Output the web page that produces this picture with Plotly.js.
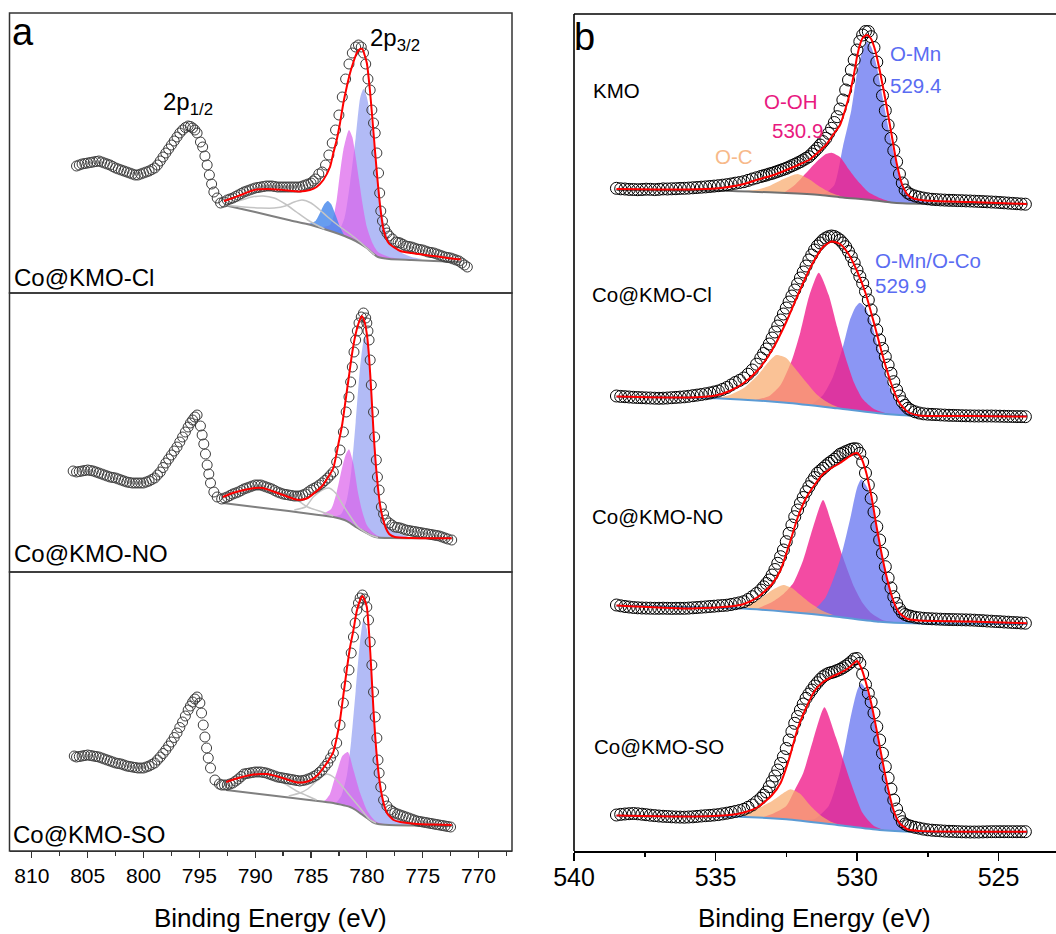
<!DOCTYPE html>
<html>
<head>
<meta charset="utf-8">
<script src="https://cdn.plot.ly/plotly-3.0.1.min.js"></script>
<style>html,body{margin:0;padding:0;background:#fff;}#chart{width:1056px;height:934px;}</style>
</head>
<body>
<div id="chart"></div>
<script>
// ---------------- Panel a : Co 2p (three samples) ----------------
const coCl_E = [806,805.75,805.5,805.25,805,804.75,804.5,804.25,804,803.75,803.5,803.25,803,802.75,802.5,802.25,802,801.75,801.5,801.25,801,800.75,800.5,800.25,800,799.75,799.5,799.25,799,798.75,798.5,798.25,798,797.75,797.5,797.25,797,796.75,796.5,796.25,796,795.8,795.6,795.4,795.2,794.9,794.7,794.5,794.3,794.1,793.9,793.7,793.4,793.1,792.8,792.5,792.25,792,791.75,791.5,791.25,791,790.75,790.5,790.25,790,789.75,789.5,789.25,789,788.75,788.5,788.25,788,787.75,787.5,787.25,787,786.75,786.5,786.25,786,785.75,785.5,785.25,785,784.8,784.6,784.3,784,783.7,783.4,783.1,782.8,782.5,782.2,781.9,781.6,781.3,781,780.75,780.5,780.3,780.1,779.9,779.7,779.55,779.4,779.25,779.1,778.95,778.85,778.75,778.6,778.4,778.2,778,777.7,777.4,777.2,777,776.75,776.5,776.25,776,775.75,775.5,775.25,775,774.75,774.5,774.25,774,773.75,773.5,773.25,773,772.75,772.5,772.25,772,771.75,771.5,771.25,771];
const coCl_I = [127,128,129,129.5,130,130.5,131,131.5,132,131,130,129,128,126.5,125,124,123,122,121,120,119,118,118,119,120,121,122,123.5,125,128,132,136,140,144,148,152,156,160,163,165.5,167,166.5,165,163,160,151,146,137,128,118,109,101,95,90,91,93,94,95,96.5,98,99.5,101,102,103,104,105,105.5,106,106.5,107,107,107,106.5,106,106,106,106,106,106,106,106,106,107,108,109,110,112,114,119,121,128,138,150,163,178,196,214,229,240,246,248,246,240,229,214,203,183,170,160,140,120,100,82,72,64,60,57,54,51,50.5,50,48.5,47,46.5,46,45,44,43.5,43,42,41,40.5,40,39,38,37,36,35.5,35,34,33,32,30,28,26];
const coCl_fitE = [792.8,792,791.3,790.1,788.9,787.5,786,785.1,784.5,783.9,783.3,783,782.7,782.4,782.1,781.8,781.5,781.2,780.9,780.6,780.4,780.2,780,779.7,779.4,779.1,778.8,778.5,778.05,777,776,774,772.8,771.6];
const coCl_fitI = [92,95,98,103,104,103,101.5,103,106,113,126,140,153,170,190,206,220,231,240,244,244,238,230,200,160,120,86,63,50,42,40,37,35,33.5];
const coCl_bgE = [792.8,790,787,785,783,782,781,780,779.5,779,778,776,774,771.6];
const coCl_bgI = [88,81,73,68,61,57,52,45,40,36,34,33,32,31];
const coCl_sat1E = [792.8,791.5,790.3,789.3,788.3,787.3,786.3,785.3,784.5,783.8];
const coCl_sat1I = [88,92,96,97,95,89,81,73,68,64];
const coCl_sat2E = [792.8,791,789.5,788.3,787.3,786.5,785.8,785,784.3,783.5,782.5,781.5,780.5,779.8,779.3];
const coCl_sat2I = [88,86,85,85,87,91,93,90,84,76,67,59,50,43,38];
const coCl_p1E = [783.5,782.5,782,781.5,781,780.6,780.3,780,779.6,779.2,778.8,778.4,778,777,776,775];
const coCl_p1I = [63,63,75,110,155,195,204,196,170,133,93,66,53,41,36,34];
const coCl_p2E = [786,785,784,783.3,783,782.7,782.4,782.1,781.6,781.3,781,780.7,780.4,780,779.5,779,778,777];
const coCl_p2I = [71,69,66,68,76,93,120,143,163,156,136,113,90,66,50,41,36,34];
const coCl_p3E = [785.2,784.6,784.2,783.8,783.5,783.2,782.8,782.4,782];
const coCl_p3I = [69,72,80,89,92,89,78,66,57];

const coNO_E = [806.3,806,805.75,805.5,805.25,805,804.75,804.5,804.25,804,803.75,803.5,803.25,803,802.75,802.5,802.25,802,801.75,801.5,801.25,801,800.75,800.5,800.25,800,799.75,799.5,799.25,799,798.75,798.5,798.25,798,797.75,797.5,797.25,797,796.75,796.5,796.25,796,795.8,795.6,795.4,795.2,794.9,794.75,794.6,794.45,794.3,794.15,794,793.7,793.4,793,792.75,792.5,792.25,792,791.75,791.5,791.25,791,790.75,790.5,790.25,790,789.75,789.5,789.25,789,788.75,788.5,788.25,788,787.75,787.5,787.25,787,786.75,786.5,786.25,786,785.75,785.5,785.25,785,784.75,784.5,784.25,784,783.75,783.5,783.25,783,782.7,782.4,782.1,781.85,781.6,781.45,781.3,781.15,781,780.85,780.7,780.5,780.3,780.1,780,779.9,779.8,779.7,779.6,779.4,779.3,779.15,779.05,778.9,778.7,778.5,778.3,778,777.75,777.5,777.25,777,776.75,776.5,776.25,776,775.75,775.5,775.25,775,774.75,774.5,774.25,774,773.75,773.5,773.25,773,772.75,772.4];
const coNO_I = [101,100,100.5,101,101.5,102,101.5,101,100,99,98,97,96,95,94.5,94,93,92,91,90,89.5,89,89,89,89,89,90,91,92.5,94,97,100,104.5,109,113,117,121,125,130,135,140,145,149,152,155,157,146,137,128,118,107,98,89,80,75,73,74,75,76.5,78,79,80,81.5,83,84,85,86,87,87,87,86,85,84,83,81.5,80,79,78,77.5,77,76.5,76,76,76,77,78,80,82,83.5,85,87,89,91.5,94,97,100,110,122,140,160,175,190,205,220,232,241,249,255,259,254,249,241,232,212,187,160,135,112,95,82,65,58,52,49,47,45,44.5,44,43,42,41.5,41,40.5,40,39.5,39,38.5,38,37.5,37,36.5,36,35,34,33,32];
const coNO_fitE = [792.9,792,791,790,789.3,788.5,787.5,786.5,786,785.3,784.6,784,783.4,783,782.6,782.2,781.9,781.6,781.3,781,780.7,780.45,780.2,780,779.8,779.6,779.4,779.2,779,778.8,778.6,778.3,778,777.5,776,774,772.4];
const coNO_fitI = [75,79,82,84,84,81,77,73,72,74,80,86,96,104,125,148,172,196,220,238,250,256,250,238,215,180,140,108,84,66,55,44,38,35,34,33.7,33.7];
const coNO_bgE = [792.9,790,787,785,783,782,781.5,781,780.5,780,779.5,779,778,775,772.4];
const coNO_bgI = [69,65,61,58,55,52,49,45,42,39,36,34.5,34,33.8,33.7];
const coNO_sat1E = [792.9,791.2,789.5,788,786.5,785.3,784,783];
const coNO_sat1I = [74,80,83,80,74,65,60,56];
const coNO_sat2E = [786.5,785.5,784.8,784,783.4,782.8,782.2,781.5,780.8,779.7,779];
const coNO_sat2I = [62,65,75,82,84,79,68,56,45,37,34.5];
const coNO_p1E = [783,782.3,781.8,781.4,781,780.6,780.2,779.9,779.6,779.3,779,778.7,778.3,777.5,776.5,776];
const coNO_p1I = [55,58,72,100,150,205,236,225,180,130,90,62,48,40,36,34];
const coNO_p2E = [784,783.2,782.7,782.2,781.9,781.6,781.2,780.8,780.4,780,779.5,779,778.5];
const coNO_p2I = [58,63,80,105,117,122.7,108,80,60,47,40,36,34.5];

const coSO_E = [806.2,806,805.75,805.5,805.25,805,804.75,804.5,804.25,804,803.75,803.5,803.25,803,802.75,802.5,802.25,802,801.75,801.5,801.25,801,800.75,800.5,800.25,800,799.75,799.5,799.25,799,798.75,798.5,798.25,798,797.75,797.5,797.25,797,796.75,796.5,796.25,796,795.8,795.6,795.4,795.2,794.95,794.8,794.65,794.5,794.35,794.2,794,793.6,793.2,793,792.75,792.5,792.25,792,791.75,791.5,791.25,791,790.75,790.5,790.25,790,789.75,789.5,789.25,789,788.75,788.5,788.25,788,787.75,787.5,787.25,787,786.75,786.5,786.25,786,785.75,785.5,785.25,785,784.75,784.5,784.25,784,783.75,783.5,783.25,783,782.7,782.4,782.1,781.85,781.6,781.4,781.2,781.05,780.9,780.75,780.6,780.4,780.2,780,779.85,779.7,779.55,779.4,779.25,779.1,779,778.9,778.75,778.5,778.2,777.9,777.7,777.5,777.25,777,776.75,776.5,776.25,776,775.75,775.5,775.25,775,774.75,774.5,774.25,774,773.75,773.5,773.25,773,772.75,772.5];
const coSO_I = [95,94,94.5,95,95.5,96,95.5,95,94.5,94,93,92,91,90,89,88,87.5,87,86,85,84.5,84,83.5,83,83,83,84,85,86.5,88,91,94,97.5,101,105,109,113.5,118,123.5,129,135,141,145,149,152,154,148,138,126,114,103,93,83,71,67,66,66,66,67,68,70,72,74.5,77,77.5,78,78.5,79,79,79,78.5,78,77,76,75,74,73.5,73,72.5,72,71.5,71,70.5,70,70.5,71,72,73,74.5,76,78.5,81,84.5,88,93,98,108,126,148,165,181,198,214,228,241,248,253,256,252,244,231,209,186,159,134,113,91,78,64,51,45,41,39.5,38,37,36,35,34,33,32,31,30,29.5,29,28.5,28,27.5,27,26.5,26,25.5,25,24.5,24];
const coSO_fitE = [792.6,791.5,790.4,789.5,788.9,788,787.4,786.2,785.5,785,784.4,783.9,783.4,783,782.7,782.4,782.1,781.8,781.5,781.2,780.9,780.6,780.4,780.2,780,779.8,779.6,779.4,779.1,778.8,778.5,778.2,777.6,777,775.5,774,772.4];
const coSO_fitI = [69,73,76,77,77,74.5,72.5,68.5,69,71,76,83,91,99,113,131,156,181,204,221,240,251,255,251,244,218,181,140,94,65,48,38,31,29,27,26.5,26];
const coSO_bgE = [792.6,790,787,784,783,782,781.5,781,780.5,780,779.5,779,778,776,772.4];
const coSO_bgI = [61,57.5,53.5,49.5,48,45.5,44,41,37,33,29,27,26,25.5,25];
const coSO_sat1E = [792.6,791.5,790.3,789.3,788.3,787.3,786.3,785.3,784.5];
const coSO_sat1I = [62,70,75,77,74,67,60,55,51];
const coSO_sat2E = [787,786,785.3,784.5,783.6,783,782.3,781.5,780.6,779.8,779.2];
const coSO_sat2I = [55,58,62,70,77,74,66,55,43,32,28];
const coSO_p1E = [783.3,782.8,782.3,781.8,781.4,781,780.6,780.3,780,779.6,779.3,779,778.7,778.3,777.5,776.5,776];
const coSO_p1I = [47.5,48,55,75,110,160,210,231,222,175,130,85,55,40,32,28,26];
const coSO_p2E = [784,783.7,783.3,783,782.6,782.2,781.7,781.2,780.6,780,779.5,779.1,778.5];
const coSO_p2I = [49.5,51,57,68,82,95,99,81,58,41,33,29,27];

const coTicks = [810,805,800,795,790,785,780,775,770];

// ---------------- Panel b : O 1s (four samples) ----------------
const oE = [538.5,538.35,538.2,538.05,537.9,537.75,537.6,537.45,537.3,537.15,537.0,536.85,536.7,536.55,536.4,536.25,536.1,535.95,535.8,535.65,535.5,535.35,535.2,535.05,534.9,534.75,534.6,534.45,534.3,534.15,534.0,533.85,533.7,533.55,533.4,533.3,533.2,533.1,533.0,532.9,532.8,532.7,532.6,532.5,532.4,532.3,532.2,532.1,532.0,531.9,531.8,531.7,531.6,531.5,531.4,531.3,531.2,531.1,531.0,530.9,530.8,530.7,530.6,530.5,530.4,530.3,530.2,530.1,530.0,529.9,529.8,529.7,529.6,529.5,529.4,529.3,529.2,529.1,529.0,528.9,528.8,528.7,528.6,528.5,528.4,528.3,528.2,528.1,527.95,527.8,527.65,527.5,527.35,527.2,527.05,526.9,526.75,526.6,526.45,526.3,526.15,526.0,525.85,525.7,525.55,525.4,525.25,525.1,524.95,524.8,524.65,524.5,524.35,524.2,524.05];
const oKMO_I = [36.7,36.2,36,35.6,35.5,35.3,35.5,35.8,35.7,35.4,35.7,36.1,36,36.2,36.3,36.6,36.7,36.9,37.2,37.5,37.8,38.1,38.5,38.9,39.3,39.8,40.3,41,41.8,42.5,43.3,44.6,46,47.2,48.5,49.3,50,51,51.7,52.7,53.7,54.7,55.7,56.7,58,59.3,60.6,62,63.3,65,66.7,68.3,71,73.9,76.7,80,83.4,86.7,91.7,96.7,102.5,108.3,116,125,135,145,155,165,175,183.5,190,193.5,193.5,188.3,177.5,163,145,129.5,114.5,100,86.7,74.5,63.3,51,42,35,32,30.5,29,27.8,26.9,26.2,25.7,25.4,25.1,24.9,24.7,24.6,24.4,24.3,24.1,24,23.8,23.6,23.4,23.2,23,22.8,22.5,22.2,21.9,21.6,21.3,21,20.8];
const oCl_I = [39,38.6,38.3,38,37.7,37.5,37.3,37.1,37,36.8,36.7,36.8,37,37.3,37.6,37.9,38.2,38.7,39.3,39.9,40.5,41.2,42,43,44,45.6,47.5,50,52.5,54.6,57,60.8,65,70.8,77,81.5,86,91,97,103,109,115,121,127,133,139,145,151,157,163,169,175,180,185,189,192,195,197,198.3,199,198.5,197,195,192,188.3,183.5,178.3,172,165,158.5,151.7,143.5,135,125,115,105,95,86.5,78.3,70,61.7,53.3,45,39,33.3,29.7,26.7,25,23.2,22,21.2,20.8,20.6,20.4,20.1,19.9,19.7,19.6,19.5,19.3,19.2,19.1,19,19,19,19,19,18.9,18.8,18.7,18.6,18.5,18.4,18.4,18.3];
const oNO_I = [35,34.2,33.5,33,32.5,32.2,32,31.9,31.8,31.7,31.7,31.8,31.7,31.6,31.7,31.7,31.7,31.9,32.2,32.5,32.8,33.1,33.5,33.8,34.2,34.5,34.8,35.5,36.3,37.2,38.3,40.5,43.3,46.5,50,53.2,56.5,60,65,70.5,76.7,83.3,90,98.3,106.7,115,123.3,130,136.7,142.5,148.3,153.3,158.3,162.5,166.7,169.2,171.7,174.2,176.7,178.7,180.7,183.2,185.7,187,188.3,189.5,190.7,191.3,191,186.7,178,167,155,141.7,128,113.3,100,86.7,73.3,62,52,43.3,36.5,31.3,27.3,25.5,24.3,23.8,22.8,22.2,21.7,21.4,21.2,21,20.8,20.6,20.5,20.4,20.3,20.2,20.1,20,19.8,19.5,19.3,19,18.8,18.5,18.3,18,17.8,17.5,17.3,17,16.8];
const oSO_I = [36,36.6,37,37.3,37.5,37.2,36.8,36.3,35.8,35.4,35,34.7,34.5,34.2,34,33.9,33.8,34,34.2,34.6,35,35.3,35.6,36,36.4,37.1,37.8,38.6,39.5,40.5,41.7,43.7,46,49.2,52.7,55.8,59,64.3,69.5,75,81,87.5,94.3,102.5,111,119.5,127.7,134.5,141,147,152.7,157,161,165,168.3,171.5,174.3,176.2,177.7,178.5,179.3,180.5,181.7,183.2,185,187,189.3,192,192.5,187.7,177,166.5,157.7,149,138,124.3,111,97.7,84.3,73,62,51,42,35,29.3,27,25.5,24.8,23.7,22.8,21.9,21.2,20.8,20.5,20.2,19.9,19.7,19.6,19.4,19.2,19.1,19,19,19,19.1,19.2,19.3,19.3,19.3,19.3,19.3,19.3,19.3,19.3,19.3];

const oKMO_fitE = [538.5,536,535,534,533.5,533,532.5,532,531.7,531.4,531.1,530.8,530.6,530.4,530.25,530.1,530,529.9,529.8,529.65,529.5,529.35,529.2,529,528.8,528.6,528.4,528.2,528,527.6,526,524];
const oKMO_fitI = [36,35.5,36.5,41,45.5,49.5,55,61,65,72,80,92,100,117,132,152,168,180,187,190,186,174,155,126,94,62,40,30,26.5,24.5,23,21];
const oCl_fitE = [538.5,536,535,534.5,534,533.5,533,532.5,532,531.6,531.2,530.9,530.6,530.3,530,529.7,529.4,529.1,528.8,528.5,528.2,527.8,526,524];
const oCl_fitI = [38.5,37.5,39.5,44,52,65,85,113,146,170,188,193.5,191,181,164,142,112,80,52,32,23,19.5,19,18.5];
const oNO_fitE = [538.5,536,534.5,534,533.5,533,532.7,532.4,532.1,531.8,531.5,531.2,530.9,530.6,530.3,530.1,530,529.85,529.7,529.5,529.3,529.1,528.9,528.7,528.5,528.2,527.8,526,524];
const oNO_fitI = [34.5,31.5,33.5,36,43,56,70,95,122,142,155,166,172,177,183,186.5,187,182,170,145,112,82,57,38,27,21,19.5,18.5,16.7];
const oSO_fitE = [538.5,536,534.5,534,533.5,533,532.7,532.4,532.1,531.8,531.5,531.2,530.9,530.6,530.3,530.1,530,529.85,529.7,529.5,529.3,529.1,528.9,528.7,528.5,528.2,527.8,526,524];
const oSO_fitI = [35.5,34.5,36,38.5,44,56,68,92,122,143,160,169,174,178,183,188,190,183,170,148,120,90,62,40,28,21.5,20,19.3,19.3];

const oKMO_bgE = [538.5,535,533.7,532.5,531.3,530.5,529.5,528.8,528.4,527.5,524];
const oKMO_bgI = [35,34.5,33.3,32,30,27.5,25,22.5,21.7,21.2,21];
const oCl_bgE = [538.5,535,532.5,530.7,529,528,524];
const oCl_bgI = [38.3,36.7,32.3,26.7,21,19.3,19];
const oNO_bgE = [538.5,534.2,532.5,530.7,529.2,528,524];
const oNO_bgI = [34.3,31.7,28.3,23.3,18.3,16.7,16];
const oSO_bgE = [538.5,534.2,532.5,530.7,529.2,528,524];
const oSO_bgI = [35.3,34.3,31.7,26,21,19.3,18.7];

const oKMO_MnE = [531.2,530.8,530.5,530.2,530,529.8,529.65,529.5,529.3,529.1,528.9,528.7,528.5,528.3,528,527.6,527.2];
const oKMO_MnI = [30,40,78,115,151.7,175,183.3,178.3,158.3,128.3,98.3,71.7,48.3,33.3,26,23.5,21.5];
const oKMO_OHE = [532.6,532.2,531.8,531.4,531.1,530.9,530.6,530.3,530,529.6,529.2,528.8];
const oKMO_OHI = [32,40,52,64,71,72.3,68,56,45,33,27,23];
const oKMO_CE = [534.2,533.6,533.1,532.6,532.1,531.7,531.3,530.9,530.5];
const oKMO_CI = [33.8,35,39,46,51,46,38,32,28];

const oCl_MnE = [531.6,531.2,530.85,530.5,530.25,530.05,529.9,529.7,529.5,529.2,528.85,528.5,528.1,527.7];
const oCl_MnI = [30.5,40,58,88,115,128,132.3,127,113,82,48,28,21.5,19.5];
const oCl_OHE = [533.6,533.1,532.7,532.3,532,531.7,531.35,531,530.7,530.4,530.1,529.8,529.4,529,528.6];
const oCl_OHI = [35,39,50,75,103,138,162.3,140,108,77,52,36,26,22,20];
const oCl_CE = [535,534.5,534,533.5,533.1,532.85,532.5,532.2,531.8,531.4,531,530.6];
const oCl_CI = [36.7,40,47,60,74,80,77,67,53,40,32,27];

const oNO_MnE = [532,531.5,531.1,530.6,530.25,530,529.85,529.65,529.5,529.3,528.95,528.6,528.25,527.8];
const oNO_MnI = [27,31,43,80,120,152,160.7,153,140,110,63,30,20,16.8];
const oNO_OHE = [533.6,533,532.6,532.25,531.9,531.55,531.2,530.9,530.5,530.1,529.8,529.5,529.1,528.7];
const oNO_OHI = [30.5,38,46,57,80,113,140,117,83,53,37,27,20,18];
const oNO_CE = [534.5,534,533.5,533.1,532.8,532.6,532.3,532,531.6,531.2,530.8];
const oNO_CI = [32.2,34,40,48,53,55,52,45,36,29,24.5];

const oSO_MnE = [532,531.5,531,530.6,530.25,530,529.85,529.65,529.5,529.2,528.95,528.6,528.25,527.8];
const oSO_MnI = [31,32,45,80,130,160,167.7,160,145,101,64,34,23,19.5];
const oSO_OHE = [533.4,533,532.5,532.2,531.9,531.55,531.15,530.75,530.25,529.8,529.4,529];
const oSO_OHI = [33.5,37,45,61,78,111,143.7,114,71,38,25,20.7];
const oSO_CE = [534.3,533.9,533.4,533,532.6,532.35,532,531.7,531.3,530.9,530.5];
const oSO_CI = [34.3,38,44,50,58,61.7,57,47,36,29,25.5];

const oTicks = [540,535,530,525];

// ---------------- helpers ----------------
const FONT = 'Liberation Sans, Arial, Helvetica, sans-serif';
const W = 1056, H = 934;
const px = v => v / W;
const py = v => 1 - v / H;

function sc(x, y, xa, ya, opts) {
  return Object.assign({type: 'scatter', mode: 'lines', x: x, y: y, xaxis: xa, yaxis: ya,
    hoverinfo: 'skip', showlegend: false}, opts);
}
// baseline under a component: its own two end points plus the background points lying between them
function baseFor(bx, by, x, y) {
  const hi = x[0], lo = x[x.length - 1];
  const X = [hi], Y = [y[0]];
  for (let i = 0; i < bx.length; i++) {
    if (bx[i] < hi - 0.15 && bx[i] > lo + 0.15) { X.push(bx[i]); Y.push(by[i]); }
  }
  X.push(lo); Y.push(y[y.length - 1]);
  return [X, Y];
}
function comp(bx, by, x, y, xa, ya, fc) {
  const b = baseFor(bx, by, x, y);
  return [
    sc(b[0], b[1], xa, ya, {line: {width: 0, shape: 'spline', smoothing: 0.5}}),
    sc(x, y, xa, ya, {fill: 'tonexty', fillcolor: fc, line: {width: 0, color: fc, shape: 'spline', smoothing: 0.6}})
  ];
}
function lineT(x, y, xa, ya, color, w) {
  return sc(x, y, xa, ya, {line: {color: color, width: w, shape: 'spline', smoothing: 0.6}});
}
function pts(x, y, xa, ya, size, color) {
  return sc(x, y, xa, ya, {mode: 'markers', marker: {symbol: 'circle-open', size: size, color: color, line: {width: 1}}});
}

const LAV = 'rgba(130,145,240,0.62)';
const MAG = 'rgba(220,95,235,0.70)';
const BLU = 'rgba(70,135,235,0.82)';
const SATC = '#c4c4c4';
const BGA = '#808080';
const FITC = '#ff0000';

const OMN = 'rgba(100,115,240,0.75)';
const OOH = 'rgba(240,30,140,0.80)';
const OC = 'rgba(248,170,110,0.72)';
const OBG = '#5b9bd5';

let traces = [];
// panel a, sub 1 (Cl)
traces.push(...comp(coCl_bgE, coCl_bgI, coCl_p1E, coCl_p1I, 'x', 'y', LAV));
traces.push(...comp(coCl_bgE, coCl_bgI, coCl_p2E, coCl_p2I, 'x', 'y', MAG));
traces.push(...comp(coCl_bgE, coCl_bgI, coCl_p3E, coCl_p3I, 'x', 'y', BLU));
traces.push(lineT(coCl_bgE, coCl_bgI, 'x', 'y', BGA, 2));
traces.push(lineT(coCl_sat1E, coCl_sat1I, 'x', 'y', SATC, 1.5));
traces.push(lineT(coCl_sat2E, coCl_sat2I, 'x', 'y', SATC, 1.5));
traces.push(pts(coCl_E, coCl_I, 'x', 'y', 10, '#3c3c3c'));
traces.push(lineT(coCl_fitE, coCl_fitI, 'x', 'y', FITC, 2));
// panel a, sub 2 (NO)
traces.push(...comp(coNO_bgE, coNO_bgI, coNO_p1E, coNO_p1I, 'x', 'y2', LAV));
traces.push(...comp(coNO_bgE, coNO_bgI, coNO_p2E, coNO_p2I, 'x', 'y2', MAG));
traces.push(lineT(coNO_bgE, coNO_bgI, 'x', 'y2', BGA, 2));
traces.push(lineT(coNO_sat1E, coNO_sat1I, 'x', 'y2', SATC, 1.5));
traces.push(lineT(coNO_sat2E, coNO_sat2I, 'x', 'y2', SATC, 1.5));
traces.push(pts(coNO_E, coNO_I, 'x', 'y2', 10, '#3c3c3c'));
traces.push(lineT(coNO_fitE, coNO_fitI, 'x', 'y2', FITC, 2));
// panel a, sub 3 (SO)
traces.push(...comp(coSO_bgE, coSO_bgI, coSO_p1E, coSO_p1I, 'x', 'y3', LAV));
traces.push(...comp(coSO_bgE, coSO_bgI, coSO_p2E, coSO_p2I, 'x', 'y3', MAG));
traces.push(lineT(coSO_bgE, coSO_bgI, 'x', 'y3', BGA, 2));
traces.push(lineT(coSO_sat1E, coSO_sat1I, 'x', 'y3', SATC, 1.5));
traces.push(lineT(coSO_sat2E, coSO_sat2I, 'x', 'y3', SATC, 1.5));
traces.push(pts(coSO_E, coSO_I, 'x', 'y3', 10, '#3c3c3c'));
traces.push(lineT(coSO_fitE, coSO_fitI, 'x', 'y3', FITC, 2));

// panel b, KMO
traces.push(...comp(oKMO_bgE, oKMO_bgI, oKMO_MnE, oKMO_MnI, 'x2', 'y4', OMN));
traces.push(...comp(oKMO_bgE, oKMO_bgI, oKMO_OHE, oKMO_OHI, 'x2', 'y4', OOH));
traces.push(...comp(oKMO_bgE, oKMO_bgI, oKMO_CE, oKMO_CI, 'x2', 'y4', OC));
traces.push(lineT(oKMO_bgE, oKMO_bgI, 'x2', 'y4', '#707070', 2));
traces.push(pts(oE, oKMO_I, 'x2', 'y4', 12, '#000'));
traces.push(lineT(oKMO_fitE, oKMO_fitI, 'x2', 'y4', FITC, 2));
// panel b, Cl
traces.push(...comp(oCl_bgE, oCl_bgI, oCl_MnE, oCl_MnI, 'x2', 'y5', OMN));
traces.push(...comp(oCl_bgE, oCl_bgI, oCl_OHE, oCl_OHI, 'x2', 'y5', OOH));
traces.push(...comp(oCl_bgE, oCl_bgI, oCl_CE, oCl_CI, 'x2', 'y5', OC));
traces.push(lineT(oCl_bgE, oCl_bgI, 'x2', 'y5', OBG, 2));
traces.push(pts(oE, oCl_I, 'x2', 'y5', 12, '#000'));
traces.push(lineT(oCl_fitE, oCl_fitI, 'x2', 'y5', FITC, 2));
// panel b, NO
traces.push(...comp(oNO_bgE, oNO_bgI, oNO_OHE, oNO_OHI, 'x2', 'y6', OOH));
traces.push(...comp(oNO_bgE, oNO_bgI, oNO_MnE, oNO_MnI, 'x2', 'y6', OMN));
traces.push(...comp(oNO_bgE, oNO_bgI, oNO_CE, oNO_CI, 'x2', 'y6', OC));
traces.push(lineT(oNO_bgE, oNO_bgI, 'x2', 'y6', OBG, 2));
traces.push(pts(oE, oNO_I, 'x2', 'y6', 12, '#000'));
traces.push(lineT(oNO_fitE, oNO_fitI, 'x2', 'y6', FITC, 2));
// panel b, SO
traces.push(...comp(oSO_bgE, oSO_bgI, oSO_MnE, oSO_MnI, 'x2', 'y7', OMN));
traces.push(...comp(oSO_bgE, oSO_bgI, oSO_OHE, oSO_OHI, 'x2', 'y7', OOH));
traces.push(...comp(oSO_bgE, oSO_bgI, oSO_CE, oSO_CI, 'x2', 'y7', OC));
traces.push(lineT(oSO_bgE, oSO_bgI, 'x2', 'y7', OBG, 2));
traces.push(pts(oE, oSO_I, 'x2', 'y7', 12, '#000'));
traces.push(lineT(oSO_fitE, oSO_fitI, 'x2', 'y7', FITC, 2));

// ---------------- layout ----------------
const hid = (d, r) => ({domain: d, range: r, visible: false, fixedrange: true});
function ann(text, x, y, size, color, xanchor) {
  return {text: text, x: px(x), y: py(y), xref: 'paper', yref: 'paper', showarrow: false,
    xanchor: xanchor || 'left', yanchor: 'middle', font: {family: FONT, size: size, color: color || '#000'}};
}
const BLUE_T = '#5a6cf2', PINK_T = '#e8197f', ORNG_T = '#f7b98a';

const layout = {
  width: W, height: H,
  margin: {l: 0, r: 0, t: 0, b: 0},
  paper_bgcolor: '#fff', plot_bgcolor: 'rgba(0,0,0,0)',
  font: {family: FONT, color: '#000'},
  showlegend: false,
  xaxis: {
    domain: [px(9.5), px(512)], range: [812, 767], anchor: 'y3', automargin: false,
    tickvals: coTicks, ticktext: coTicks.map(String),
    ticks: 'outside', ticklen: 6, tickwidth: 1.2, tickcolor: '#333', ticklabelstandoff: -1,
    minor: {ticks: 'outside', dtick: 2.5, tick0: 0, ticklen: 3.5, tickwidth: 1.2, tickcolor: '#333'},
    showline: true, linecolor: '#333', linewidth: 1.3, showgrid: false, zeroline: false,
    tickfont: {family: FONT, size: 21, color: '#000'}, fixedrange: true
  },
  yaxis: hid([py(293), py(13)], [0, 280]),
  yaxis2: Object.assign(hid([py(572), py(293)], [0, 279]), {anchor: 'x'}),
  yaxis3: Object.assign(hid([py(851), py(572)], [0, 279]), {anchor: 'x'}),
  xaxis2: {
    domain: [px(574), 1], range: [540, 540 - 482 / 28.3], anchor: 'y7', automargin: false,
    tickvals: oTicks, ticktext: oTicks.map(String),
    ticks: 'outside', ticklen: 8, tickwidth: 1.5, tickcolor: '#000', ticklabelstandoff: -5,
    minor: {ticks: 'outside', dtick: 2.5, tick0: 0, ticklen: 4.5, tickwidth: 1.5, tickcolor: '#000'},
    showline: true, linecolor: '#000', linewidth: 1.6, showgrid: false, zeroline: false,
    tickfont: {family: FONT, size: 25, color: '#000'}, fixedrange: true
  },
  yaxis4: Object.assign(hid([py(225), py(14)], [0, 211]), {anchor: 'x2'}),
  yaxis5: Object.assign(hid([py(435), py(225)], [0, 210]), {anchor: 'x2'}),
  yaxis6: Object.assign(hid([py(640), py(435)], [0, 205]), {anchor: 'x2'}),
  yaxis7: Object.assign(hid([py(851), py(640)], [0, 211]), {anchor: 'x2'}),
  shapes: [
    {type: 'rect', xref: 'paper', yref: 'paper', x0: px(9.5), x1: px(512), y0: py(293), y1: py(13), line: {color: '#333', width: 1.5}},
    {type: 'rect', xref: 'paper', yref: 'paper', x0: px(9.5), x1: px(512), y0: py(572), y1: py(293), line: {color: '#333', width: 1.5}},
    {type: 'rect', xref: 'paper', yref: 'paper', x0: px(9.5), x1: px(512), y0: py(851), y1: py(572), line: {color: '#333', width: 1.5}},
    {type: 'line', xref: 'paper', yref: 'paper', x0: px(574), x1: px(574), y0: py(851), y1: py(14), line: {color: '#000', width: 1.6}},
    {type: 'line', xref: 'paper', yref: 'paper', x0: px(574), x1: 1, y0: py(14), y1: py(14), line: {color: '#000', width: 1.6}}
  ],
  annotations: [
    ann('a', 10, 32, 38),
    ann('2p<sub>1/2</sub>', 188, 104, 24, '#000', 'center'),
    ann('2p<sub>3/2</sub>', 394.5, 40, 24, '#000', 'center'),
    ann('Co@KMO-Cl', 12, 277.5, 24),
    ann('Co@KMO-NO', 12, 553.5, 24),
    ann('Co@KMO-SO', 11, 834.5, 24),
    ann('Binding Energy (eV)', 270.5, 918, 26, '#000', 'center'),
    ann('b', 572, 37, 38),
    ann('KMO', 591, 90, 20.5),
    ann('O-Mn', 888, 54, 20.5, BLUE_T),
    ann('529.4', 888, 85, 20.5, BLUE_T),
    ann('O-OH', 762, 101, 20.5, PINK_T),
    ann('530.9', 770, 131, 20.5, PINK_T),
    ann('O-C', 713, 156, 20.5, ORNG_T),
    ann('Co@KMO-Cl', 590, 295, 20.5),
    ann('O-Mn/O-Co', 873, 260, 20.5, BLUE_T),
    ann('529.9', 873, 285, 20.5, BLUE_T),
    ann('Co@KMO-NO', 590, 516, 20.5),
    ann('Co@KMO-SO', 592, 746, 20.5),
    ann('Binding Energy (eV)', 814, 918, 26, '#000', 'center')
  ]
};

Plotly.newPlot('chart', traces, layout, {displayModeBar: false, staticPlot: true});
</script>
</body>
</html>
